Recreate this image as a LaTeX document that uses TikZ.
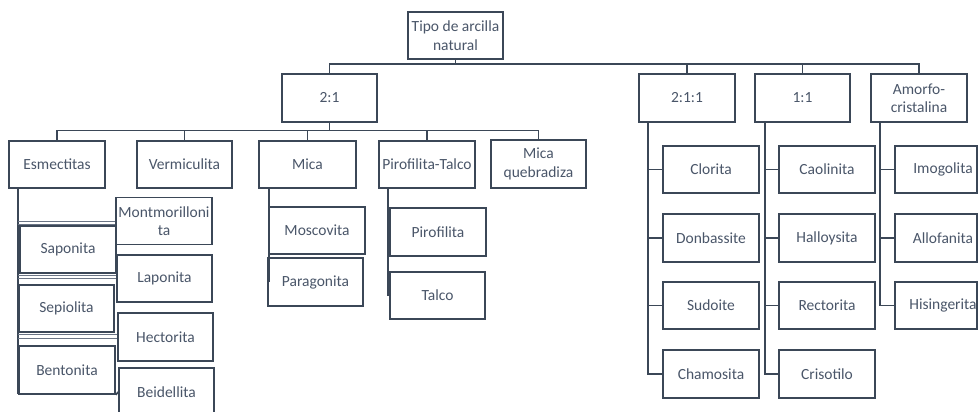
\documentclass[tikz,border=0pt]{standalone}
\usepackage{fontspec}
\setmainfont{Carlito}
\definecolor{linecol}{HTML}{3B4757}
\definecolor{txtcol}{HTML}{4A5669}
\definecolor{dblcol}{HTML}{6A7485}
\begin{document}
\begin{tikzpicture}[x=1pt,y=-1pt,
  box/.style={draw=linecol, line width=1.7pt, text=txtcol, fill=white, inner sep=0pt, align=center,
    font=\fontsize{15.5}{18.5}\selectfont, minimum width=96pt, minimum height=47.5pt},
  conn/.style={draw=linecol, line width=1.7pt},
  dbl/.style={draw=dblcol, line width=0.9pt}]
\useasboundingbox (0,0) rectangle (978,412);
% level 0/1
\node[box, minimum width=95pt, minimum height=47pt] (root) at (455.5,35.5) {Tipo de arcilla\\natural};
\node[box, minimum width=95pt] (n21) at (329.5,98) {2:1};
\node[box] (n211) at (687,98) {2:1:1};
\node[box, minimum width=95pt] (n11) at (802.5,98) {1:1};
\node[box] (amorfo) at (919,98) {Amorfo-\\cristalina};
% level 2 under 2:1
\node[box] (esm) at (57,164.5) {Esmectitas};
\node[box, minimum width=95pt] (verm) at (184.5,164.5) {Vermiculita};
\node[box, minimum width=97pt] (mica) at (307.5,164.5) {Mica};
\node[box] (piro) at (427,164.5) {Pirofilita-Talco};
\node[box, minimum width=95pt, minimum height=48pt] (micaq) at (538.5,164) {Mica\\quebradiza};
% connectors top
\draw[conn] (root.south) -- ++(0,4) -| (n21.north);
\draw[conn] (root.south) -- ++(0,4) -| (n211.north);
\draw[conn] (root.south) -- ++(0,4) -| (n11.north);
\draw[conn] (root.south) -- ++(0,4) -| (amorfo.north);
\draw[conn] (n21.south) -- ++(0,8) -| (esm.north);
\draw[conn] (n21.south) -- ++(0,8) -| (verm.north);
\draw[conn] (n21.south) -- ++(0,8) -| (mica.north);
\draw[conn] (n21.south) -- ++(0,8) -| (piro.north);
\draw[conn] (n21.south) -- ++(0,8) -| (micaq.north);
% Esmectitas children
\coordinate (esmL) at ([xshift=10pt]esm.south west);
\node[box, minimum width=96pt, minimum height=47pt] (mont) at (164,221) {Montmorilloni\\ta};
\node[box, minimum width=95pt, minimum height=47pt] (lapo) at (164.5,278.5) {Laponita};
\node[box, minimum width=95pt, minimum height=48pt] (hect) at (165.5,337) {Hectorita};
\node[box, minimum width=95pt, minimum height=48pt] (beid) at (166.5,392) {Beidellita};
\draw[conn] (esmL) -- (esmL |- 0,394);
\draw[dbl] ([yshift=-0.5pt]mont.west) -- ++(-97,0);
\draw[dbl] ([yshift=-3.5pt]mont.west) -- ++(-97,0);
\draw[dbl] ([yshift=3pt]lapo.west) -- ++(-98,0);
\draw[dbl] ([yshift=0pt]lapo.west) -- ++(-98,0);
\draw[dbl] ([yshift=3pt]hect.west) -- ++(-99,0);
\draw[dbl] ([yshift=-1pt]hect.west) -- ++(-99,0);
\node[box, minimum width=96pt, minimum height=47pt] (sapo) at (68,249.5) {Saponita};
\node[box, minimum width=95pt, minimum height=47pt] (sepi) at (66.5,308.5) {Sepiolita};
\node[box, minimum width=96pt, minimum height=48pt] (bent) at (67,370) {Bentonita};
\draw[conn] (beid.west) -- (bent.south east);
% Mica children
\coordinate (micaL) at ([xshift=11pt]mica.south west);
\node[box, minimum width=96pt, minimum height=47pt] (mosc) at (317,230.5) {Moscovita};
\node[box, minimum width=95pt, minimum height=48pt] (parag) at (315.5,282) {Paragonita};
\draw[conn] (micaL) -- (micaL |- parag.west);
% Pirofilita children
\coordinate (piroL) at ([xshift=10pt]piro.south west);
\node[box, minimum width=96pt, minimum height=48pt] (pirof) at (438,232) {Pirofilita};
\node[box, minimum width=95pt, minimum height=47pt] (talco) at (437.5,295.5) {Talco};
\draw[conn] (piroL) -- (piroL |- talco.west);
% 2:1:1 children
\node[box] (clor) at (711,169.5) {Clorita};
\node[box] (donb) at (711,238) {Donbassite};
\node[box] (sudo) at (711,305.5) {Sudoite};
\node[box] (cham) at (711,374) {Chamosita};
\coordinate (c211) at ([xshift=10pt]n211.south west);
\foreach \n in {clor,donb,sudo,cham} \draw[conn] (c211) |- (\n.west);
% 1:1 children
\node[box] (caol) at (827,169.5) {Caolinita};
\node[box] (hall) at (827,238) {Halloysita};
\node[box] (rect) at (827,305.5) {Rectorita};
\node[box] (cris) at (827,374) {Crisotilo};
\coordinate (c11) at ([xshift=11pt]n11.south west);
\foreach \n in {caol,hall,rect,cris} \draw[conn] (c11) |- (\n.west);
% Amorfo children
\node[box, minimum width=82pt] (imog) at (936,169.5) {\hspace*{14pt}Imogolita};
\node[box, minimum width=82pt] (allo) at (936,238) {\hspace*{14pt}Allofanita};
\node[box, minimum width=82pt] (hisi) at (936,305.5) {\hspace*{14pt}Hisingerita};
\coordinate (cam) at ([xshift=10pt]amorfo.south west);
\foreach \n in {imog,allo,hisi} \draw[conn] (cam) |- (\n.west);
\end{tikzpicture}
\end{document}
